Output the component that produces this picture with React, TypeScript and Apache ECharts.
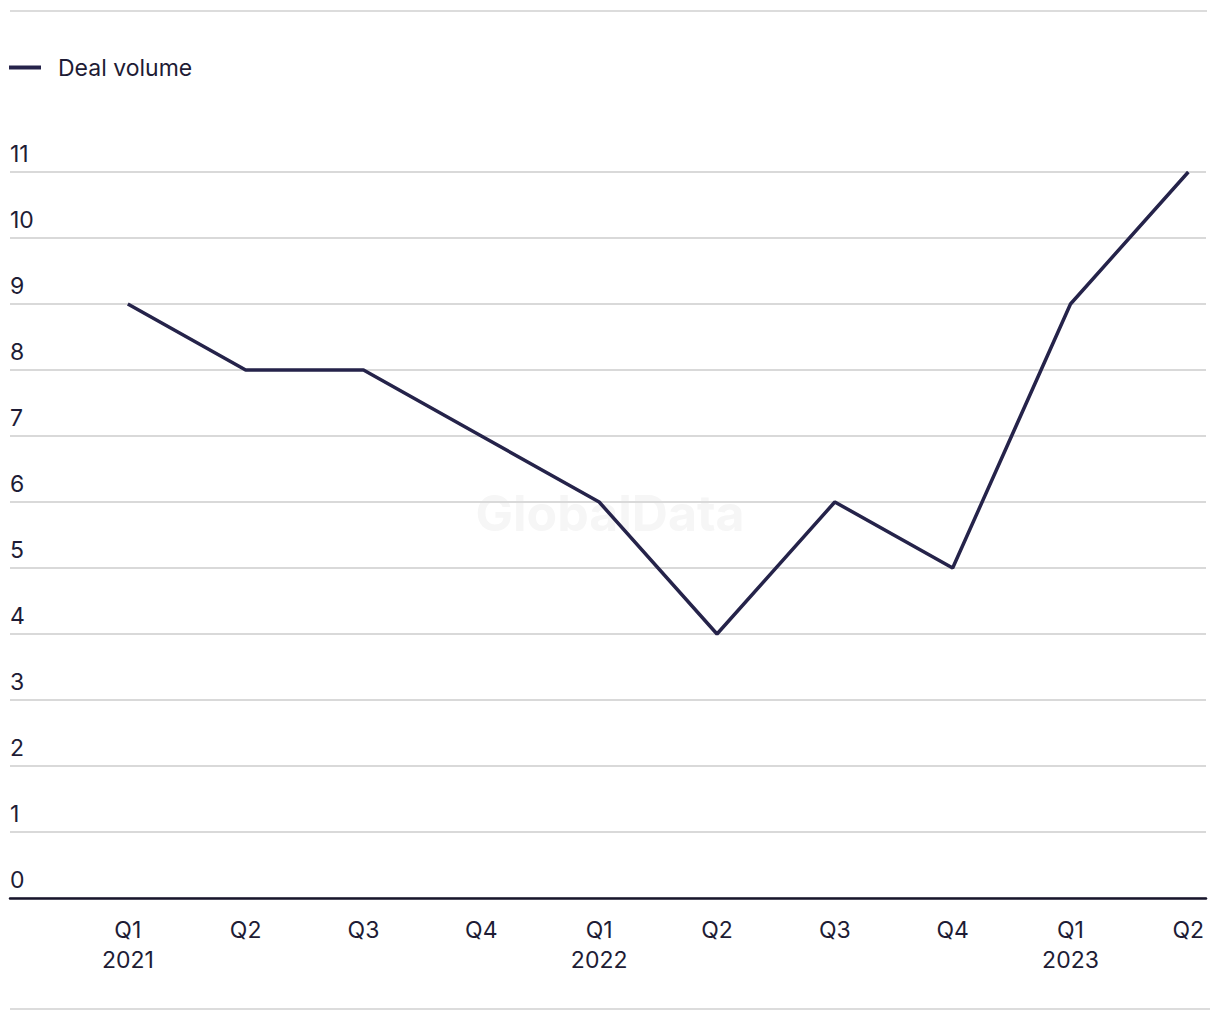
import React, { useEffect, useRef } from "react";
import * as echarts from "echarts";

const categories = ["Q1\n2021", "Q2", "Q3", "Q4", "Q1\n2022", "Q2", "Q3", "Q4", "Q1\n2023", "Q2"];
const dealVolume = [9, 8, 8, 7, 6, 4, 6, 5, 9, 11];
const yTicks = [0, 1, 2, 3, 4, 5, 6, 7, 8, 9, 10, 11];

const FONT = "Inter, 'Liberation Sans', sans-serif";
const TEXT = "#1e1c35";
const LINE = "#25234a";

export default function App() {
  const ref = useRef<HTMLDivElement>(null);
  useEffect(() => {
    if (!ref.current) return;
    const chart = echarts.init(ref.current, undefined, { renderer: "svg" });
    chart.setOption({
      animation: false,
      textStyle: { fontFamily: FONT },
      legend: {
        left: 4,
        top: 51,
        icon: "rect",
        itemWidth: 32,
        itemHeight: 4,
        textStyle: { fontSize: 23, color: TEXT, fontFamily: FONT, padding: [0, 0, 0, 12] },
        data: ["Deal volume"],
      },
      grid: { left: 10, right: 14, top: 172, bottom: 122, containLabel: false },
      xAxis: {
        type: "value",
        min: -1,
        max: 9.15,
        interval: 1,
        axisLine: { show: true, lineStyle: { color: "#17152b", width: 2.5 } },
        axisTick: { show: false },
        splitLine: { show: false },
        axisLabel: {
          showMaxLabel: false,
          margin: 17,
          fontSize: 23,
          lineHeight: 30,
          color: TEXT,
          fontFamily: FONT,
          formatter: (v: number) => {
            const i = Math.round(v);
            return Math.abs(v - i) < 1e-6 && i >= 0 && i < categories.length ? categories[i] : "";
          },
        },
      },
      yAxis: {
        type: "value",
        min: yTicks[0],
        max: yTicks[yTicks.length - 1],
        interval: 1,
        axisLine: { show: false },
        axisTick: { show: false },
        splitLine: { show: true, lineStyle: { color: "#d9d9d9", width: 2 } },
        axisLabel: {
          inside: true,
          margin: 0,
          fontSize: 23,
          color: TEXT,
          fontFamily: FONT,
          verticalAlign: "bottom",
          align: "left",
          padding: [0, 0, 7, 0],
        },
      },
      graphic: [
        {
          type: "text",
          left: "center",
          top: 488,
          z: -10,
          style: { text: "GlobalData", fontSize: 50, fontWeight: "bold", fill: "#f6f6f6", fontFamily: FONT },
        },
        {
          type: "line",
          shape: { x1: 10, y1: 11, x2: 1207, y2: 11 },
          style: { stroke: "#dcdcdc", lineWidth: 2 },
        },
        {
          type: "line",
          shape: { x1: 10, y1: 1009, x2: 1210, y2: 1009 },
          style: { stroke: "#dcdcdc", lineWidth: 2 },
        },
      ],
      series: [
        {
          name: "Deal volume",
          type: "line",
          data: dealVolume.map((v, i) => [i, v]),
          showSymbol: false,
          symbol: "none",
          lineStyle: { color: LINE, width: 3.5 },
          itemStyle: { color: LINE },
        },
      ],
    });
    return () => chart.dispose();
  }, []);
  return <div ref={ref} style={{ width: 1220, height: 1020, margin: -8 }} />;
}
